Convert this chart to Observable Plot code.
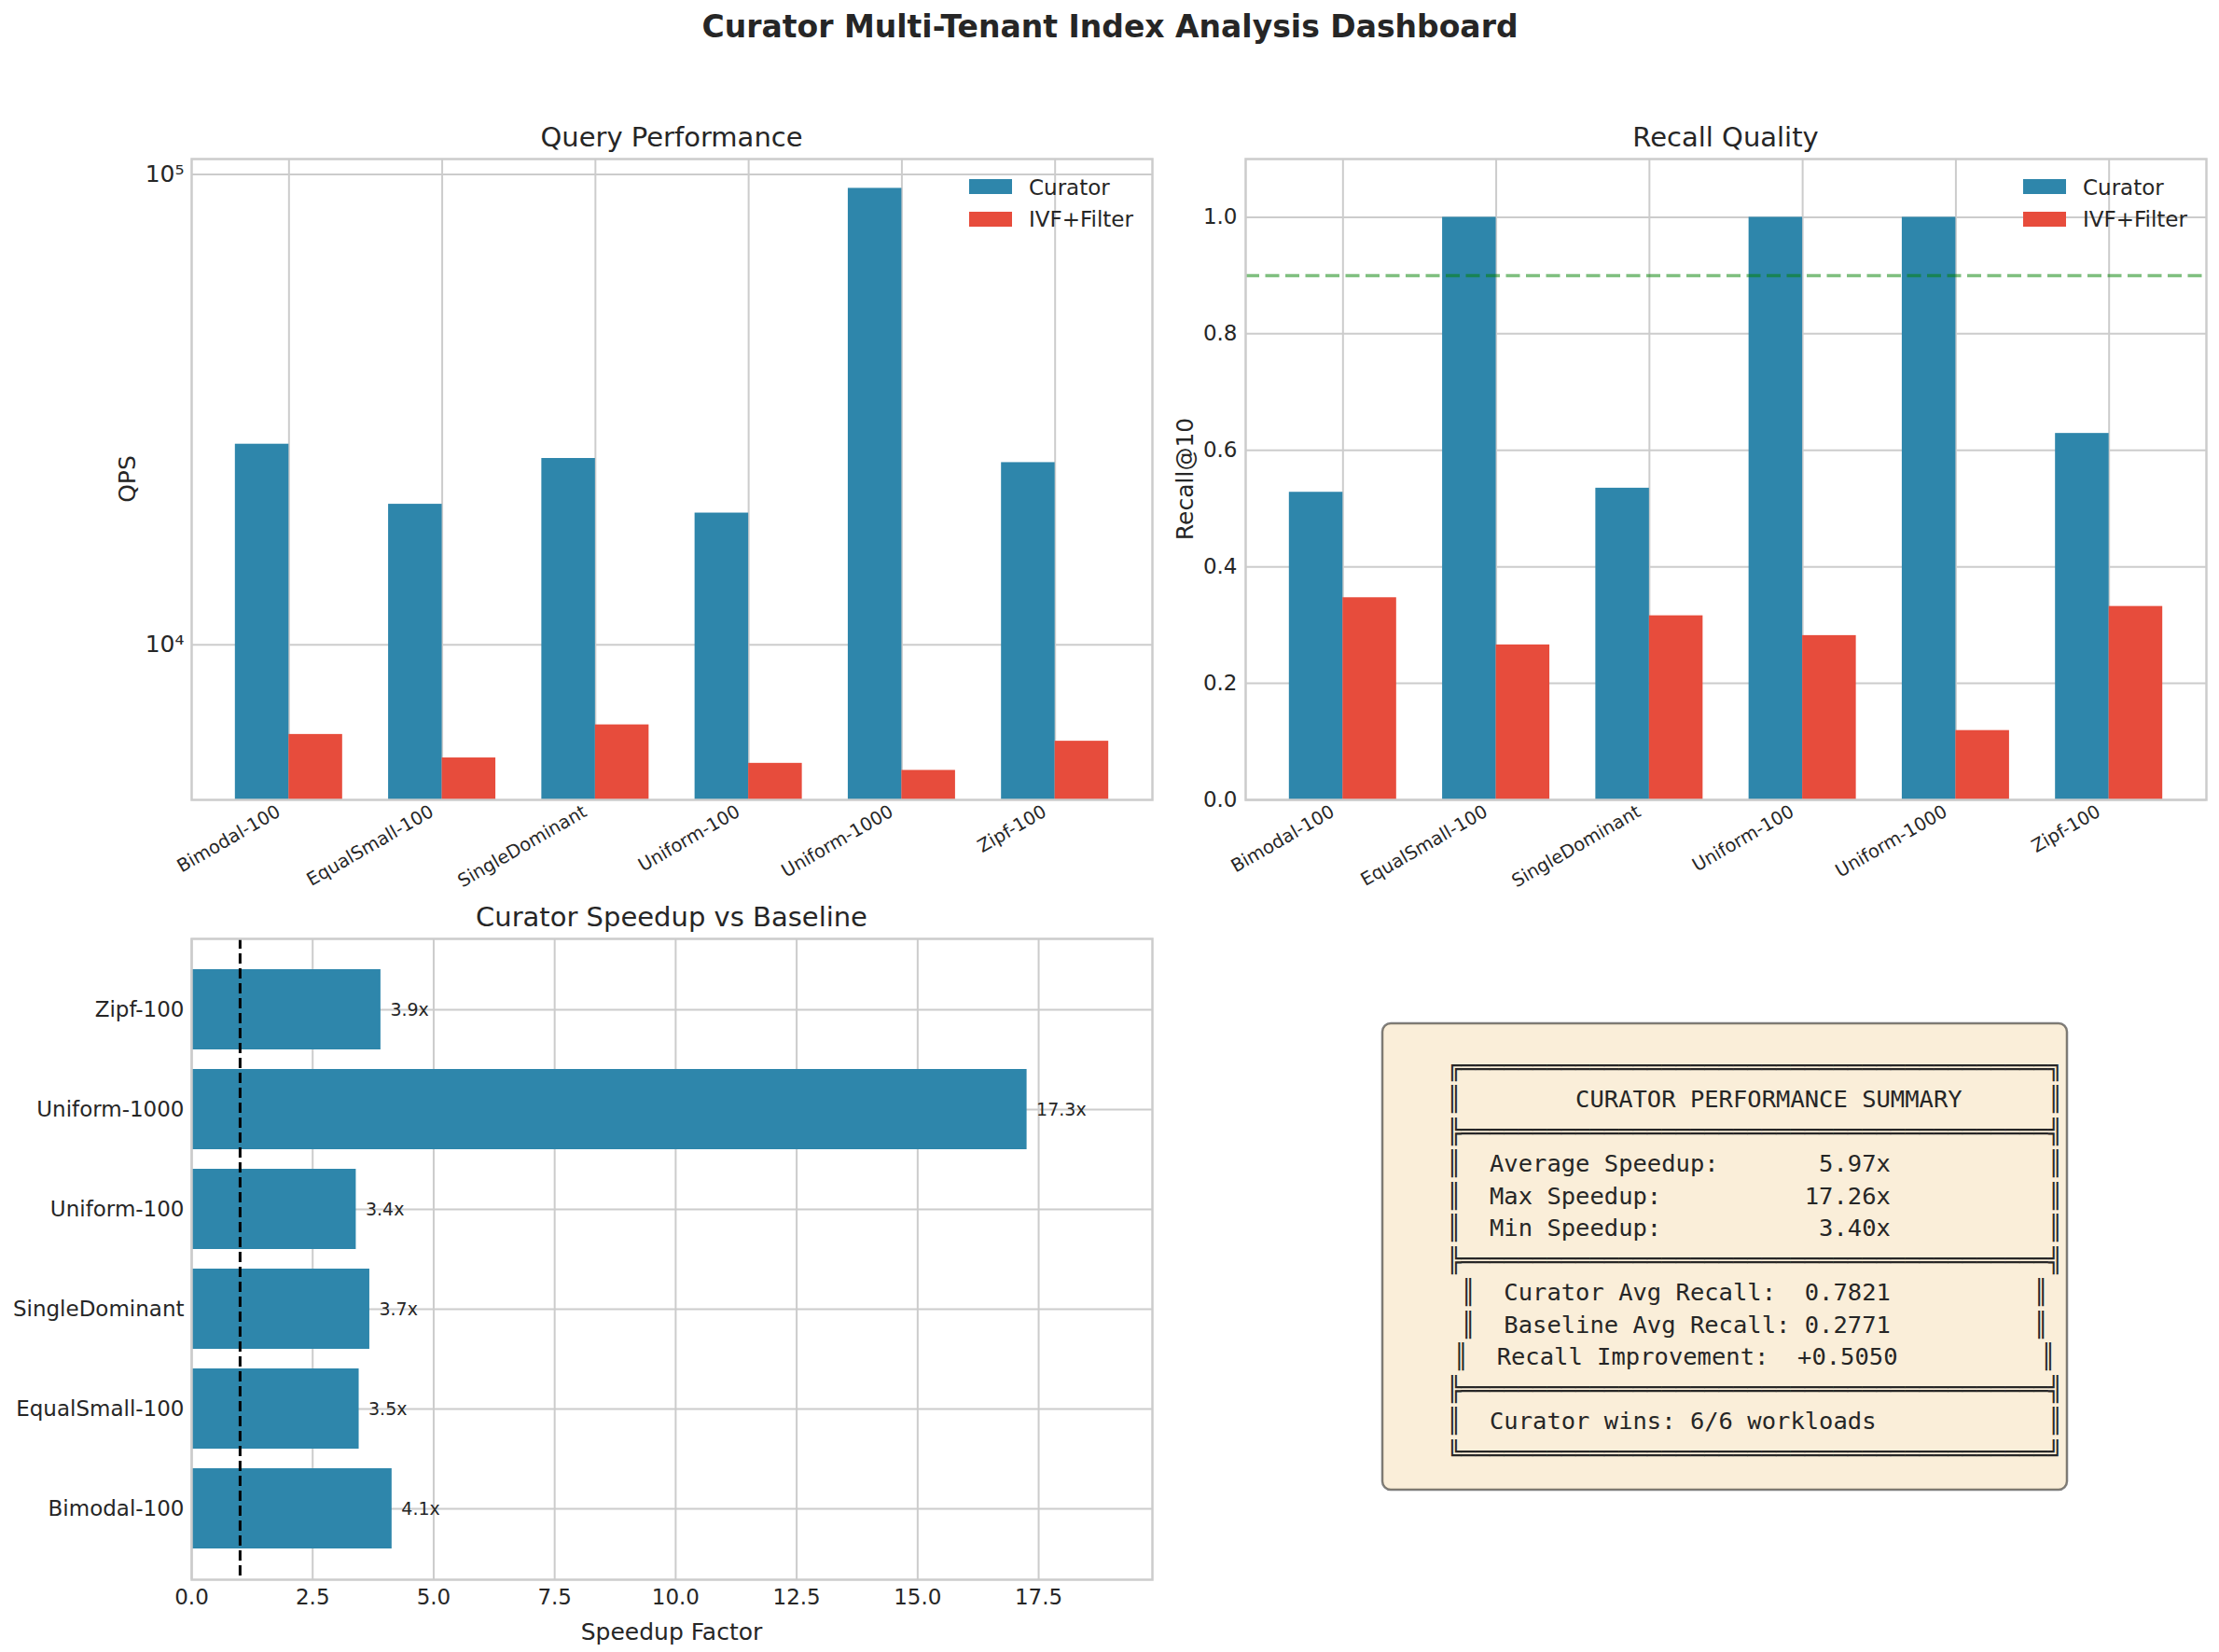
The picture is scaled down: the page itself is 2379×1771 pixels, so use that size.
<!DOCTYPE html>
<html><head><meta charset="utf-8">
<script src="https://cdn.jsdelivr.net/npm/d3@7"></script>
<script src="https://cdn.jsdelivr.net/npm/@observablehq/plot@0.6"></script>
<style>
html,body{margin:0;padding:0;background:#fff;}
#root{position:relative;width:2379px;height:1771px;background:#fff;overflow:hidden;font-family:"DejaVu Sans",sans-serif;}
#root svg{position:absolute;max-width:none;}
</style></head><body><div id="root"></div>
<script>
// ---- data ----
const workloads = ["Bimodal-100","EqualSmall-100","SingleDominant","Uniform-100","Uniform-1000","Zipf-100"];
const seriesNames = ["Curator","IVF+Filter"];
const seriesColors = ["#2E86AB","#E74C3C"];
const curatorQps = [26700, 19900, 24900, 19060, 93400, 24400];
const ivfQps = [6450, 5750, 6760, 5600, 5410, 6240];
const curatorRecall = [0.528, 1.0, 0.535, 1.0, 1.0, 0.629];
const ivfRecall = [0.347, 0.266, 0.316, 0.282, 0.119, 0.332];
const speedup = [4.14, 3.46, 3.68, 3.40, 17.26, 3.91];
const qpsTicks = [1e4, 1e5];
const recallTicks = [0, 0.2, 0.4, 0.6, 0.8, 1.0];
const speedupTicks = [0, 2.5, 5, 7.5, 10, 12.5, 15, 17.5];
const recallTarget = [0.9];
const parity = [1];
const speedupStatLabels = ["Average Speedup:","Max Speedup:","Min Speedup:"];
const speedupStatValues = ["5.97x","17.26x","3.40x"];
const recallStatLabels = ["Curator Avg Recall:","Baseline Avg Recall:","Recall Improvement:"];
const recallStatValues = ["0.7821","0.2771","+0.5050"];
const winsText = "Curator wins: 6/6 workloads";

// ---- helpers ----
const idx = workloads.map((_, i) => i);
const rows = workloads.map((name, i) => ({name, i, cq: curatorQps[i], iq: ivfQps[i], cr: curatorRecall[i], ir: ivfRecall[i], sp: speedup[i]}));
const barW = 0.35;
const ink = "#262626";
const gridOpts = {stroke: "#cccccc", strokeOpacity: 1, strokeWidth: 2};
const frameOpts = {stroke: "#cccccc", strokeWidth: 2.5};
const baseStyle = {fontFamily: "DejaVu Sans", fontSize: "23px", color: ink, background: "transparent", overflow: "visible"};
const supMap = {"0":"⁰","1":"¹","2":"²","3":"³","4":"⁴","5":"⁵","6":"⁶","7":"⁷","8":"⁸","9":"⁹"};
const root = document.getElementById("root");
function place(svg, left, top) { svg.style.left = left + "px"; svg.style.top = top + "px"; root.appendChild(svg); }
const catAxis = () => Plot.axisX({ticks: idx, tickFormat: i => workloads[i], tickRotate: -30, tickSize: 0, tickPadding: 11, fontSize: 19.5, dx: -11, label: null});

// ---- Panel 1: Query performance (log) ----
const qpsFloor = 4683;
const p1 = Plot.plot({
  width: 1245, height: 800, marginLeft: 205, marginRight: 10, marginTop: 20, marginBottom: 93,
  style: baseStyle,
  x: {type: "linear", domain: [-0.635, 5.635]},
  y: {type: "log", domain: [qpsFloor, 107800]},
  marks: [
    Plot.gridX({ticks: idx, ...gridOpts}),
    Plot.gridY({ticks: qpsTicks, ...gridOpts}),
    Plot.rectY(rows, {x1: d => d.i - barW, x2: d => d.i, y1: qpsFloor, y2: "cq", fill: seriesColors[0]}),
    Plot.rectY(rows, {x1: d => d.i, x2: d => d.i + barW, y1: qpsFloor, y2: "iq", fill: seriesColors[1]}),
    catAxis(),
    Plot.axisY({ticks: qpsTicks, tickFormat: v => "10" + String(Math.round(Math.log10(v))).split("").map(c => supMap[c]).join(""), tickSize: 0, tickPadding: 8, fontSize: 25, label: null}),
    Plot.frame(frameOpts)
  ]
});
place(p1, 0, 150);

// ---- Panel 2: Recall quality ----
const p2 = Plot.plot({
  width: 1134, height: 800, marginLeft: 90, marginRight: 14, marginTop: 20, marginBottom: 93,
  style: baseStyle,
  x: {type: "linear", domain: [-0.635, 5.635]},
  y: {type: "linear", domain: [0, 1.1]},
  marks: [
    Plot.gridX({ticks: idx, ...gridOpts}),
    Plot.gridY({ticks: recallTicks, ...gridOpts}),
    Plot.rectY(rows, {x1: d => d.i - barW, x2: d => d.i, y1: 0, y2: "cr", fill: seriesColors[0]}),
    Plot.rectY(rows, {x1: d => d.i, x2: d => d.i + barW, y1: 0, y2: "ir", fill: seriesColors[1]}),
    Plot.ruleY(recallTarget, {stroke: "green", strokeOpacity: 0.5, strokeWidth: 3.5, strokeDasharray: "15,6.5"}),
    catAxis(),
    Plot.axisY({ticks: recallTicks, tickFormat: d3.format(".1f"), tickSize: 0, tickPadding: 9, label: null}),
    Plot.frame(frameOpts)
  ]
});
place(p2, 1245, 150);

// ---- Panel 3: Speedup ----
const p3 = Plot.plot({
  width: 1245, height: 781, marginLeft: 205, marginRight: 10, marginTop: 16, marginBottom: 78,
  style: baseStyle,
  x: {type: "linear", domain: [0, 19.85]},
  y: {type: "band", domain: workloads.slice().reverse(), paddingInner: 0.2, paddingOuter: 0.29},
  marks: [
    Plot.gridX({ticks: speedupTicks, ...gridOpts}),
    Plot.gridY({...gridOpts}),
    Plot.barX(rows, {x: "sp", y: "name", fill: seriesColors[0]}),
    Plot.ruleX(parity, {stroke: "black", strokeWidth: 3, strokeDasharray: "11,5"}),
    Plot.text(rows, {x: "sp", y: "name", text: d => d.sp.toFixed(1) + "x", textAnchor: "start", dx: 10, fontSize: 19, fill: ink}),
    Plot.axisX({ticks: speedupTicks, tickFormat: d3.format(".1f"), tickSize: 0, tickPadding: 10, label: null}),
    Plot.axisY({tickSize: 0, tickPadding: 8, label: null}),
    Plot.frame(frameOpts)
  ]
});
place(p3, 0, 990);

// ---- Overlay: titles, labels, legends, summary ----
const ov = d3.select(root).append("svg")
  .attr("width", 2379).attr("height", 1771)
  .style("left", "0px").style("top", "0px")
  .attr("font-family", "DejaVu Sans").attr("fill", ink);

ov.append("text").attr("x", 1190).attr("y", 40).attr("text-anchor", "middle")
  .attr("font-size", 33).attr("font-weight", "bold").text("Curator Multi-Tenant Index Analysis Dashboard");

const titles = [["Query Performance", 720, 157], ["Recall Quality", 1850, 157], ["Curator Speedup vs Baseline", 720, 993]];
titles.forEach(([t, x, y]) => ov.append("text").attr("x", x).attr("y", y).attr("text-anchor", "middle").attr("font-size", 29).text(t));

ov.append("text").attr("transform", "translate(145,513.5) rotate(-90)").attr("text-anchor", "middle").attr("font-size", 25).text("QPS");
ov.append("text").attr("transform", "translate(1279,513.5) rotate(-90)").attr("text-anchor", "middle").attr("font-size", 25).text("Recall@10");
ov.append("text").attr("x", 720).attr("y", 1758).attr("text-anchor", "middle").attr("font-size", 25).text("Speedup Factor");

[1039, 2169].forEach(lx => {
  seriesNames.forEach((s, k) => {
    ov.append("rect").attr("x", lx).attr("y", 192 + k * 35).attr("width", 46).attr("height", 16).attr("fill", seriesColors[k]);
    ov.append("text").attr("x", lx + 64).attr("y", 209 + k * 34).attr("font-size", 23).text(s);
  });
});

// summary box
const H = "═".repeat(41);
const summaryLines = [
  "╔" + H + "╗",
  "║        CURATOR PERFORMANCE SUMMARY      ║",
  "╠" + H + "╣",
  ...speedupStatLabels.map((l, k) => "║  " + l.padEnd(22) + speedupStatValues[k].padStart(6) + " ".repeat(11) + "║"),
  "╠" + H + "╣",
  ...recallStatLabels.map((l, k) => "║  " + l.padEnd(21) + recallStatValues[k] + " ".repeat(10) + "║"),
  "╠" + H + "╣",
  "║  " + winsText + " ".repeat(12) + "║",
  "╚" + H + "╝"
];
ov.append("rect").attr("x", 1482).attr("y", 1097).attr("width", 734).attr("height", 500).attr("rx", 9)
  .attr("fill", "#F5DEB3").attr("fill-opacity", 0.5).attr("stroke", "black").attr("stroke-opacity", 0.5).attr("stroke-width", 2.5);
summaryLines.forEach((line, k) => {
  ov.append("text").attr("x", 1881).attr("y", 1152.5 + k * 34.5).attr("text-anchor", "middle")
    .attr("font-family", "DejaVu Sans Mono").attr("font-size", 25.5).attr("xml:space", "preserve")
    .style("white-space", "pre").text(line);
});
</script></body></html>
